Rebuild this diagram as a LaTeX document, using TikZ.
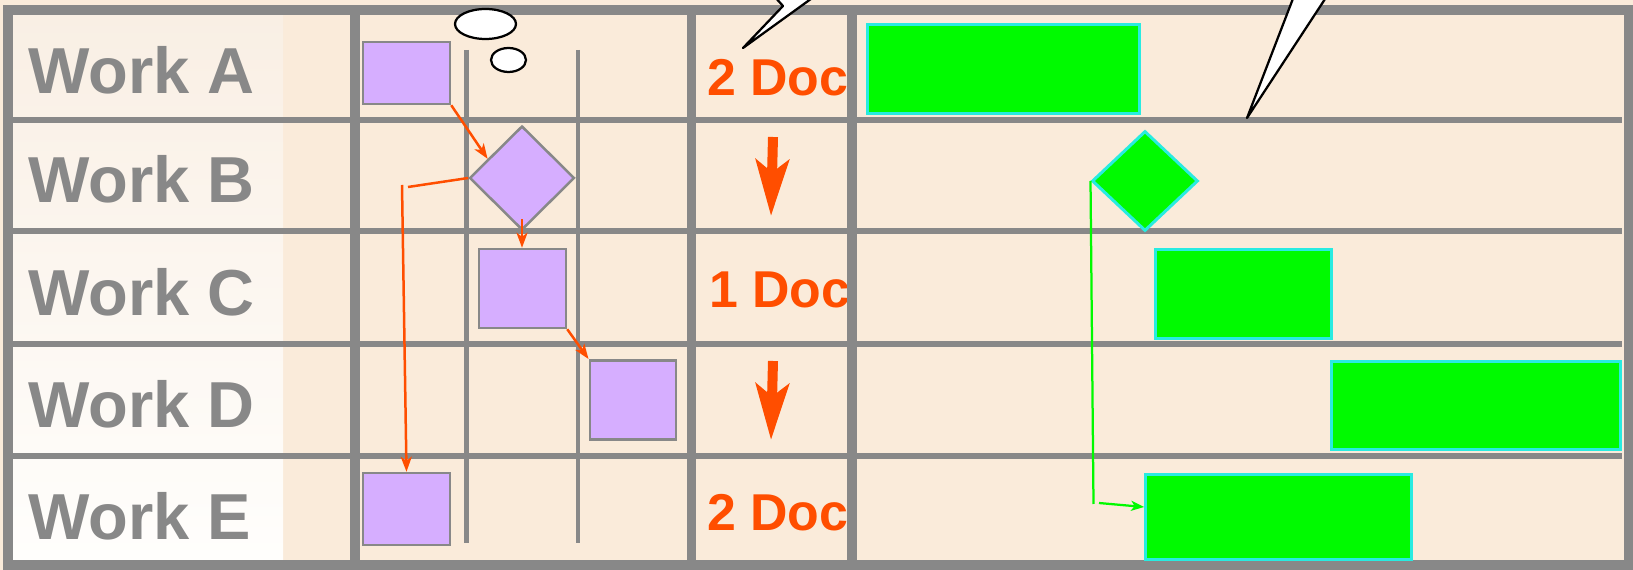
\documentclass[tikz,border=0pt]{standalone}
\usepackage{fontspec}
\setmainfont{Liberation Sans}
\usetikzlibrary{shapes.geometric,positioning,calc,arrows.meta}

\definecolor{sheet}{RGB}{250,235,218}
\definecolor{labeltop}{RGB}{249,239,228}
\definecolor{labelbottom}{RGB}{255,254,252}
\definecolor{rule}{RGB}{136,136,136}
\definecolor{lavender}{RGB}{214,174,255}
\definecolor{docred}{RGB}{255,78,0}
\definecolor{barfill}{RGB}{0,250,0}
\definecolor{barline}{RGB}{40,235,225}

\begin{document}
\begin{tikzpicture}[x=0.02cm, y=-0.02cm]

        \useasboundingbox (0,0) rectangle (1633,570);
        \clip (0,0) rectangle (1633,570);

        \tikzset{
            worklabel/.style={anchor=base west, inner sep=0, text=rule,
                font=\fontsize{37}{40}\selectfont\bfseries},
            doclabel/.style={anchor=base west, inner sep=0, text=docred,
                font=\fontsize{29.5}{34}\selectfont\bfseries},
            boxsize/.style 2 args={minimum width=#1, minimum height=#2},
            task/.style={draw=rule, fill=lavender, line width=0.05cm, inner sep=0},
            gate/.style={task, diamond},
            bar/.style={draw=barline, fill=barfill, line width=0.06cm, inner sep=0},
            hold/.style={bar, diamond},
            frame/.style={draw=rule, line width=0.19cm},
            rowline/.style={draw=rule, line width=0.11cm},
            thinline/.style={draw=rule, line width=0.09cm},
            linkline/.style={draw=docred, line width=0.05cm},
            link/.style={linkline, -{Stealth[length=0.3cm, width=0.22cm, inset=0.08cm]}},
            flowline/.style={draw=barfill, line width=0.045cm},
            flow/.style={flowline, -{Stealth[length=0.26cm, width=0.2cm, inset=0.07cm]}},
            bigdown/.style={draw=docred, line width=0.2cm,
                -{Stealth[length=1.12cm, width=0.66cm, inset=0.25cm]}},
            bubble/.style={draw=black, fill=white, line width=0.045cm, line join=round}
        }

        % sheet and label column
        \fill[sheet] (0,0) rectangle (1633,570);
        \shade[top color=labeltop, bottom color=labelbottom] (13,14) rectangle (283,561);

        \node[worklabel] (workA) at (28,94) {Work A};
        \node[worklabel] (workB) at (28,203) {Work B};
        \node[worklabel] (workC) at (28,315.5) {Work C};
        \node[worklabel] (workD) at (28,428) {Work D};
        \node[worklabel] (workE) at (28,539.5) {Work E};

        \node[doclabel] (docA) at (707,96) {2 Doc};
        \node[doclabel] (docC) at (709,308) {1 Doc};
        \node[doclabel] (docE) at (707,531) {2 Doc};

        % grid
        \foreach \y in {120,231,344,456}
            \draw[rowline] (8,\y) -- (1622,\y);
        \foreach \x in {466.5,578}
            \draw[thinline] (\x,50) -- (\x,543);
        \foreach \x in {355,691.5,852}
            \draw[frame] (\x,10) -- (\x,565);
        \draw[frame] (8,10) rectangle (1629,565);

        % flow chart
        \node[task, boxsize={1.74cm}{1.24cm}] (taskA) at (406.5,73) {};
        \node[gate, boxsize={2.1cm}{2.08cm}] (taskB) at (522,178) {};
        \node[task, boxsize={1.74cm}{1.58cm}] (taskC) at (522.5,288.5) {};
        \node[task, boxsize={1.73cm}{1.59cm}] (taskD) at (633,400) {};
        \node[task, boxsize={1.74cm}{1.44cm}] (taskE) at (406.5,509) {};

        \coordinate (bendB) at (408,187);
        \coordinate (dropE) at (402,185);

        \draw[link] (taskA.south east) -- ($(taskB.west)!0.36!(taskB.north)$);
        \draw[link] ($(taskB.south)+(0,-12)$) -- (taskB.south |- taskC.north);
        \draw[link] (taskC.south east) -- (taskD.north west);
        \draw[linkline] (taskB.west) -- (bendB);
        \draw[link] (dropE) -- (taskE.north);

        % documents handed down
        \coordinate (downB) at (773,137);
        \coordinate (tipB) at (771,216);
        \coordinate (downD) at (773,361);
        \coordinate (tipD) at (771,440);
        \draw[bigdown] (downB) -- (tipB);
        \draw[bigdown] (downD) -- (tipD);

        % schedule bars
        \node[bar, boxsize={5.44cm}{1.79cm}] (barA) at (1003.5,68.75) {};
        \node[hold, boxsize={2.12cm}{2cm}] (barB) at (1145,181) {};
        \node[bar, boxsize={3.54cm}{1.79cm}] (barC) at (1243.5,293.75) {};
        \node[bar, boxsize={5.77cm}{1.78cm}] (barD) at (1476,405.5) {};
        \node[bar, boxsize={5.31cm}{1.72cm}] (barE) at (1278.3,517) {};

        \coordinate (holdEnd) at (1093.5,504);
        \coordinate (holdFoot) at (1099,503);
        \draw[flowline] (barB.west) -- (holdEnd);
        \draw[flow] (holdFoot) -- ($(barE.west)+(0,-10)$);

        % callouts
        \draw[bubble] (774,-4) -- (783,6) -- (743,48) -- (815,-4) -- cycle;
        \draw[bubble] (1294,-4) -- (1247,118) -- (1327,-4) -- cycle;
        \node[bubble, ellipse, inner sep=0, minimum width=1.22cm,
            minimum height=0.6cm] (puffA) at (485.5,24) {};
        \node[bubble, ellipse, inner sep=0, minimum width=0.7cm,
            minimum height=0.48cm] (puffB) at (508.5,60) {};

\end{tikzpicture}
\end{document}
